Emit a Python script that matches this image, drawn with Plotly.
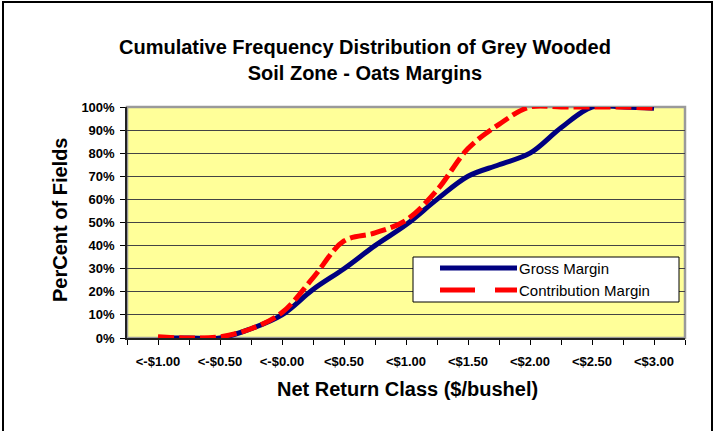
import plotly.graph_objects as go

# ─── Data ────────────────────────────────────────────────────────────────────
# upper bound of each net-return class ($/bushel)
CLASS_BOUNDS = [-1.00, -0.75, -0.50, -0.25, 0.00, 0.25, 0.50, 0.75, 1.00,
                1.25, 1.50, 1.75, 2.00, 2.25, 2.50, 2.75, 3.00]
GROSS_MARGIN = [0.0, 0.0, 0.0, 4.0, 10.0, 21.0, 30.0, 40.0, 49.0,
                60.0, 70.0, 75.0, 80.0, 91.0, 100.0, 100.0, 99.5]
CONTRIB_MARGIN = [0.5, 0.0, 0.5, 4.0, 11.0, 26.0, 42.0, 45.5, 51.0,
                  64.0, 82.0, 92.5, 100.0, 100.0, 100.0, 100.0, 99.5]

TICK_VALUES = [-1.00, -0.50, 0.00, 0.50, 1.00, 1.50, 2.00, 2.50, 3.00]
TICK_LABELS = ["<-$1.00", "<-$0.50", "<-$0.00", "<$0.50", "<$1.00",
               "<$1.50", "<$2.00", "<$2.50", "<$3.00"]

SERIES = [
    ("Gross Margin", GROSS_MARGIN, "#000080", "solid"),
    ("Contribution Margin", CONTRIB_MARGIN, "#FF0000", "16px,5px"),
]

# ─── Layout geometry (pixels) ────────────────────────────────────────────────
W, H = 718, 431
M_L, M_R, M_T, M_B = 127, 33, 107, 93
PW, PH = W - M_L - M_R, H - M_T - M_B
FONT = "Liberation Sans, Arial, sans-serif"


def px_x(x):
    return (x - M_L) / PW


def px_y(y):
    return (H - M_B - y) / PH


fig = go.Figure()
for name, vals, color, dash in SERIES:
    fig.add_trace(go.Scatter(
        x=CLASS_BOUNDS, y=[v / 100 for v in vals], name=name, mode="lines",
        line=dict(color=color, width=5, dash=dash, shape="spline", smoothing=1.0),
        showlegend=False,
    ))

shapes = [
    # plot-area frame (grey top/right)
    dict(type="rect", xref="paper", yref="paper", x0=0, x1=1, y0=0, y1=1,
         line=dict(color="#9A9A9A", width=2.5), layer="below"),
    # outer chart frame
    dict(type="rect", xref="paper", yref="paper", x0=px_x(3), x1=px_x(712),
         y0=px_y(440), y1=px_y(2), line=dict(color="#000000", width=2)),
    # legend box
    dict(type="rect", xref="paper", yref="paper", x0=px_x(413), x1=px_x(679),
         y0=px_y(302), y1=px_y(257), fillcolor="white",
         line=dict(color="#000000", width=1)),
]
annotations = [
    dict(text="<b>Cumulative Frequency Distribution of Grey Wooded<br>Soil Zone - Oats Margins</b>",
         xref="paper", yref="paper", x=px_x(365), y=px_y(59.5), showarrow=False,
         xanchor="center", yanchor="middle", font=dict(size=20, color="black")),
    dict(text="<b>Net Return Class ($/bushel)</b>", xref="paper", yref="paper",
         x=px_x(407), y=px_y(389), showarrow=False, xanchor="center", yanchor="middle",
         font=dict(size=20, color="black")),
    dict(text="<b>PerCent of Fields</b>", xref="paper", yref="paper",
         x=px_x(60), y=px_y(220), showarrow=False, textangle=-90,
         xanchor="center", yanchor="middle", font=dict(size=20, color="black")),
]
for i, (name, vals, color, dash) in enumerate(SERIES):
    row_y = px_y(268 + 22 * i)
    shapes.append(dict(type="line", xref="paper", yref="paper", x0=px_x(440), x1=px_x(517),
                       y0=row_y, y1=row_y,
                       line=dict(color=color, width=5, dash="35px,20px" if dash != "solid" else dash)))
    annotations.append(dict(text=name, xref="paper", yref="paper", x=px_x(517), y=row_y,
                            showarrow=False, xanchor="left", yanchor="middle",
                            font=dict(size=15, color="black")))

fig.update_layout(
    width=W, height=H,
    margin=dict(l=M_L, r=M_R, t=M_T, b=M_B, autoexpand=False),
    paper_bgcolor="white", plot_bgcolor="#FFFF99",
    font=dict(family=FONT, color="black"),
    shapes=shapes, annotations=annotations,
    showlegend=False,
)
fig.update_xaxes(
    range=[-1.25, 3.25], tickvals=TICK_VALUES, ticktext=TICK_LABELS,
    ticks="outside", ticklen=5, tickcolor="black", ticklabelstandoff=6,
    minor=dict(ticks="outside", tick0=-1.25, dtick=0.25, ticklen=5, tickcolor="black"),
    tickfont=dict(size=13, family=FONT, weight="bold"),
    showline=True, linecolor="#222222", linewidth=1.5, showgrid=False, zeroline=False,
)
fig.update_yaxes(
    range=[0, 1], dtick=0.1, tickformat=".0%",
    ticks="outside", ticklen=5, tickcolor="black", ticklabelstandoff=3,
    tickfont=dict(size=13, family=FONT, weight="bold"),
    showline=True, linecolor="#222222", linewidth=1.5,
    showgrid=True, gridcolor="#444444", gridwidth=1, zeroline=False,
)

# drop the browser's default body margin so the chart sits at the page origin
fig.write_html("out.html", config={"displayModeBar": False},
               post_script="document.body.style.margin='0';")
